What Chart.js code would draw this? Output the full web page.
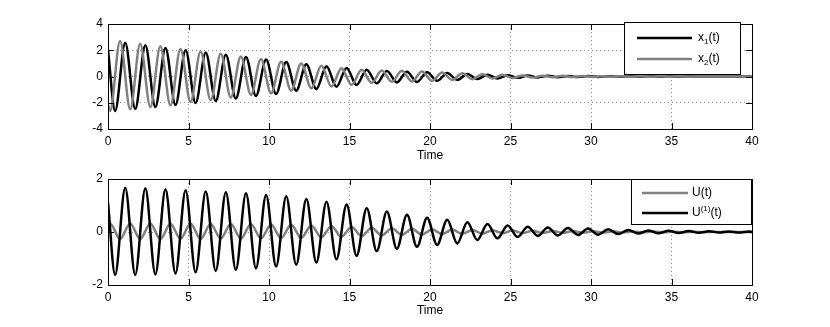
<!DOCTYPE html>
<html>
<head>
<meta charset="utf-8">
<script src="https://cdn.jsdelivr.net/npm/chart.js@4.4.1/dist/chart.umd.min.js"></script>
<style>
html, body { margin: 0; padding: 0; background: #fff; }
canvas { display: block; }
</style>
</head>
<body>
<canvas id="topChart" width="830" height="163"></canvas>
<canvas id="bottomChart" width="830" height="164"></canvas>
<script>
// extrema (x1 and U1 share timeA, x2 and U share timeB)
var timeA = [0, 0.44, 1.07, 1.69, 2.32, 2.94, 3.57, 4.19, 4.82, 5.44, 6.07, 6.69, 7.32, 7.94, 8.57, 9.19,
    9.82, 10.44, 11.07, 11.69, 12.32, 12.94, 13.57, 14.19, 14.82, 15.44, 16.07, 16.69, 17.32, 17.94, 18.57, 19.19,
    19.82, 20.44, 21.07, 21.69, 22.32, 22.94, 23.57, 24.19, 24.82, 25.44, 26.07, 26.69, 27.32, 27.94, 28.57, 29.19,
    29.82, 30.44, 31.07, 31.69, 32.32, 32.94, 33.57, 34.19, 34.82, 35.44, 36.07, 36.69, 37.32, 37.94, 38.57, 39.19,
    39.82, 40];
var timeB = [0, 0.13, 0.75, 1.38, 2.00, 2.63, 3.25, 3.88, 4.50, 5.13, 5.75, 6.38, 7.00, 7.63, 8.25, 8.88,
    9.50, 10.13, 10.75, 11.38, 12.00, 12.63, 13.25, 13.88, 14.50, 15.13, 15.75, 16.38, 17.00, 17.63, 18.25, 18.88,
    19.50, 20.13, 20.75, 21.38, 22.00, 22.63, 23.25, 23.88, 24.50, 25.13, 25.75, 26.38, 27.00, 27.63, 28.25, 28.88,
    29.50, 30.13, 30.75, 31.38, 32.00, 32.63, 33.25, 33.88, 34.50, 35.13, 35.75, 36.38, 37.00, 37.63, 38.25, 38.88,
    39.50, 40];

var x1Values = [2.0, -2.62, 2.58, -2.48, 2.38, -2.33, 2.18, -2.17, 2.00, -2.02, 1.82, -1.86, 1.65, -1.68, 1.48, -1.48,
    1.29, -1.33, 1.10, -1.08, 0.94, -0.96, 0.78, -0.78, 0.65, -0.64, 0.52, -0.52, 0.42, -0.45, 0.37, -0.42,
    0.32, -0.33, 0.26, -0.26, 0.19, -0.19, 0.14, -0.15, 0.10, -0.10, 0.07, -0.07, 0.05, -0.05, 0.04, -0.04,
    0.03, -0.03, 0.02, -0.02, 0.02, -0.02, 0.01, -0.01, 0.01, -0.01, 0.01, 0, 0, 0, 0, 0,
    0, 0];
var x2Values = [-2.15, -2.62, 2.70, -2.50, 2.50, -2.33, 2.30, -2.20, 2.10, -1.95, 1.90, -1.80, 1.73, -1.60, 1.53, -1.40,
    1.33, -1.28, 1.12, -1.07, 1.00, -0.90, 0.82, -0.77, 0.63, -0.64, 0.51, -0.48, 0.46, -0.40, 0.43, -0.38,
    0.38, -0.33, 0.30, -0.26, 0.25, -0.20, 0.18, -0.15, 0.13, -0.12, 0.08, -0.08, 0.06, -0.06, 0.05, -0.04,
    0.03, -0.03, 0.02, -0.02, 0.02, -0.01, 0.01, -0.01, 0.01, 0, 0, 0, 0, 0, 0, 0,
    0, 0];
var uValues = [0.30, 0.32, -0.27, 0.32, -0.27, 0.32, -0.27, 0.31, -0.26, 0.31, -0.26, 0.30, -0.25, 0.30, -0.25, 0.29,
    -0.24, 0.28, -0.23, 0.27, -0.22, 0.25, -0.20, 0.22, -0.18, 0.19, -0.16, 0.16, -0.13, 0.14, -0.11, 0.12,
    -0.10, 0.10, -0.08, 0.09, -0.07, 0.08, -0.06, 0.07, -0.05, 0.06, -0.045, 0.05, -0.04, 0.04, -0.03, 0.035,
    -0.025, 0.03, -0.02, 0.025, -0.015, 0.02, -0.01, 0.015, -0.01, 0.01, -0.005, 0.01, -0.005, 0.005, 0, 0,
    0, 0];
var u1Values = [1.12, -1.62, 1.67, -1.62, 1.65, -1.60, 1.61, -1.57, 1.58, -1.52, 1.53, -1.47, 1.50, -1.43, 1.46, -1.37,
    1.40, -1.30, 1.35, -1.24, 1.25, -1.15, 1.14, -1.03, 1.04, -0.90, 0.90, -0.72, 0.77, -0.63, 0.65, -0.56,
    0.54, -0.49, 0.46, -0.43, 0.37, -0.30, 0.30, -0.24, 0.25, -0.19, 0.20, -0.15, 0.17, -0.13, 0.15, -0.11,
    0.13, -0.10, 0.10, -0.08, 0.08, -0.06, 0.06, -0.05, 0.05, -0.04, 0.04, -0.03, 0.03, -0.02, 0.02, -0.02,
    0.02, 0.0];

var timeTicks = [0, 5, 10, 15, 20, 25, 30, 35, 40];
var topYTicks = [-4, -2, 0, 2, 4];
var bottomYTicks = [-2, 0, 2];

var FONT = '"Liberation Sans", Arial, Helvetica, sans-serif';
var GRAY = '#808080';

function toPoints(times, values) {
    return times.map(function(t, i) { return {x: t, y: values[i]}; });
}

// box round the axes with inward ticks, like matlab
var axesBoxPlugin = {
    id: 'axesBox',
    afterDatasetsDraw: function(chart) {
        var ctx = chart.ctx;
        var a = chart.chartArea;
        var xs = chart.scales.x, ys = chart.scales.y;
        ctx.save();
        ctx.strokeStyle = '#000';
        ctx.lineWidth = 1;
        ctx.beginPath();
        xs.ticks.forEach(function(t) {
            var px = Math.round(xs.getPixelForValue(t.value)) + 0.5;
            ctx.moveTo(px, a.bottom); ctx.lineTo(px, a.bottom - 6);
            ctx.moveTo(px, a.top); ctx.lineTo(px, a.top + 6);
        });
        ys.ticks.forEach(function(t) {
            var py = Math.round(ys.getPixelForValue(t.value)) + 0.5;
            ctx.moveTo(a.left, py); ctx.lineTo(a.left + 6, py);
            ctx.moveTo(a.right, py); ctx.lineTo(a.right - 6, py);
        });
        ctx.stroke();
        ctx.strokeRect(Math.round(a.left) + 0.5, Math.round(a.top) + 0.5,
            Math.round(a.right - a.left), Math.round(a.bottom - a.top));
        ctx.restore();
    }
};

var matLegendPlugin = {
    id: 'matLegend',
    afterDraw: function(chart, args, opts) {
        var ctx = chart.ctx;
        var b = opts.box;
        ctx.save();
        ctx.fillStyle = '#fff';
        ctx.fillRect(b.x, b.y, b.w, b.h);
        ctx.strokeStyle = '#000';
        ctx.lineWidth = 1;
        ctx.strokeRect(b.x + 0.5, b.y + 0.5, b.w, b.h);
        opts.items.forEach(function(item) {
            ctx.strokeStyle = item.color;
            ctx.lineWidth = 2.5;
            ctx.beginPath();
            ctx.moveTo(item.x0, item.y);
            ctx.lineTo(item.x1, item.y);
            ctx.stroke();
            var x = item.tx;
            ctx.fillStyle = '#000';
            ctx.textBaseline = 'middle';
            item.parts.forEach(function(p) {
                ctx.font = p.size + 'px ' + FONT;
                ctx.fillText(p.text, x, item.y + p.dy);
                x += ctx.measureText(p.text).width;
            });
        });
        ctx.restore();
    }
};

function buildOptions(yMin, yMax, yTicks, xHeight, titlePad, padTop, legend) {
    return {
        responsive: false,
        animation: false,
        devicePixelRatio: 1,
        layout: {padding: {left: 68, right: 78, top: padTop, bottom: 0}},
        elements: {point: {radius: 0}},
        plugins: {
            legend: {display: false},
            tooltip: {enabled: false},
            matLegend: legend
        },
        scales: {
            x: {
                type: 'linear',
                min: 0,
                max: 40,
                afterBuildTicks: function(scale) {
                    scale.ticks = timeTicks.map(function(v) { return {value: v}; });
                },
                afterFit: function(scale) { scale.height = xHeight; },
                grid: {
                    color: 'rgba(0,0,0,0.4)',
                    lineWidth: 1,
                    drawTicks: false
                },
                border: {display: false, dash: [1, 3]},
                ticks: {
                    padding: 5,
                    color: '#000',
                    maxRotation: 0,
                    font: {family: FONT, size: 12}
                },
                title: {
                    display: true,
                    text: 'Time',
                    color: '#000',
                    padding: {top: 0, bottom: titlePad},
                    font: {family: FONT, size: 12}
                }
            },
            y: {
                type: 'linear',
                min: yMin,
                max: yMax,
                afterBuildTicks: function(scale) {
                    scale.ticks = yTicks.map(function(v) { return {value: v}; });
                },
                afterFit: function(scale) { scale.width = 40; },
                grid: {
                    color: 'rgba(0,0,0,0.4)',
                    lineWidth: 1,
                    drawTicks: false
                },
                border: {display: false, dash: [1, 3]},
                ticks: {
                    padding: 5,
                    color: '#000',
                    font: {family: FONT, size: 12}
                }
            }
        }
    };
}

new Chart(document.getElementById('topChart').getContext('2d'), {
    type: 'line',
    data: {
        datasets: [
            {
                label: 'x1(t)',
                data: toPoints(timeA, x1Values),
                borderColor: '#000',
                borderWidth: 2.5,
                cubicInterpolationMode: 'monotone',
                fill: false,
                order: 1
            },
            {
                label: 'x2(t)',
                data: toPoints(timeB, x2Values),
                borderColor: GRAY,
                borderWidth: 2.5,
                cubicInterpolationMode: 'monotone',
                fill: false,
                order: 0
            }
        ]
    },
    options: buildOptions(-4, 4, topYTicks, 34, 0, 24, {
        box: {x: 624, y: 22, w: 116, h: 52},
        items: [
            {color: '#000', x0: 637, x1: 692, y: 38, tx: 698,
                parts: [{text: 'x', size: 12, dy: 0}, {text: '1', size: 8, dy: 4}, {text: '(t)', size: 12, dy: 0}]},
            {color: GRAY, x0: 637, x1: 692, y: 59, tx: 698,
                parts: [{text: 'x', size: 12, dy: 0}, {text: '2', size: 8, dy: 4}, {text: '(t)', size: 12, dy: 0}]}
        ]
    }),
    plugins: [axesBoxPlugin, matLegendPlugin]
});

new Chart(document.getElementById('bottomChart').getContext('2d'), {
    type: 'line',
    data: {
        datasets: [
            {
                label: 'U(t)',
                data: toPoints(timeB, uValues),
                borderColor: GRAY,
                borderWidth: 2.5,
                cubicInterpolationMode: 'monotone',
                fill: false,
                order: 1
            },
            {
                label: 'U(1)(t)',
                data: toPoints(timeA, u1Values),
                borderColor: '#000',
                borderWidth: 2.5,
                cubicInterpolationMode: 'monotone',
                fill: false,
                order: 0
            }
        ]
    },
    options: buildOptions(-2, 2, bottomYTicks, 42, 9, 16, {
        box: {x: 631, y: 16, w: 120, h: 45},
        items: [
            {color: GRAY, x0: 642, x1: 688, y: 30, tx: 692,
                parts: [{text: 'U(t)', size: 12, dy: 0}]},
            {color: '#000', x0: 642, x1: 688, y: 50, tx: 692,
                parts: [{text: 'U', size: 12, dy: 0}, {text: '(1)', size: 8, dy: -4}, {text: '(t)', size: 12, dy: 0}]}
        ]
    }),
    plugins: [axesBoxPlugin, matLegendPlugin]
});
</script>
</body>
</html>
